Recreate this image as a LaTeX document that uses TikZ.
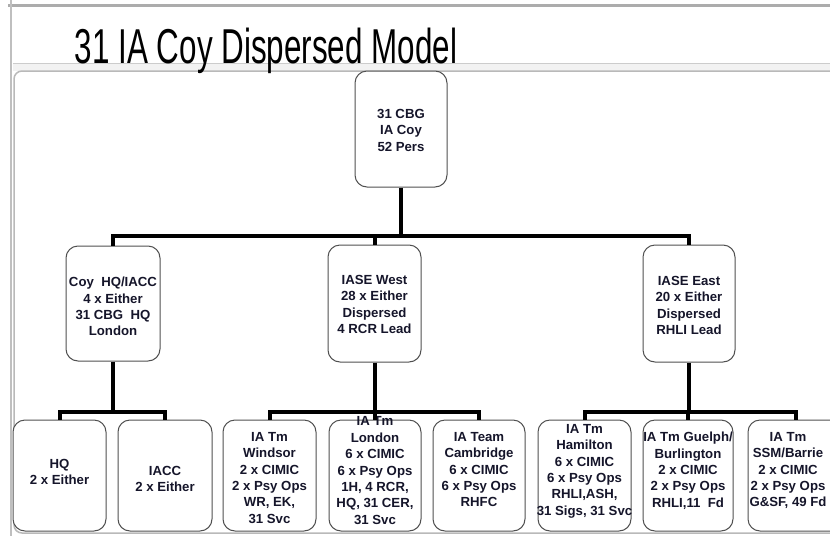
\documentclass[tikz,border=0pt]{standalone}
\usepackage{fontspec}
\setmainfont{Liberation Sans}
\definecolor{txt}{HTML}{15152A}
\definecolor{bord}{HTML}{505050}
\tikzset{
  box/.style={draw=bord, line width=1pt, rounded corners=12pt, fill=white, inner sep=0pt},
  lbl/.style={anchor=north, inner sep=0pt, align=center, text=txt, font=\fontsize{13.2}{16.4}\selectfont\bfseries},
  conn/.style={line width=4pt, draw=black},
}
\begin{document}
\begin{tikzpicture}[x=1pt,y=-1pt]
\useasboundingbox (0,0) rectangle (830,536);
\clip (0,0) rectangle (830,536);
\fill[white] (0,0) rectangle (830,536);
% slide frame
\draw[line width=3pt, gray!65] (8,5) -- (830,5);
\draw[line width=1.5pt, gray!50] (11,0) -- (11,536);
\fill[gray!10] (13,63) rectangle (830,71);
\draw[gray!40, line width=1pt] (13,63) -- (830,63);
\draw[gray!55, line width=1.5pt, rounded corners=8pt] (14,71) rectangle (845,533);
% title
\node[anchor=base, inner sep=0pt, text=black, font=\fontsize{31.4}{36}\selectfont] (title) at (266,63.5) {\scalebox{1}[1.56]{31 IA Coy Dispersed Model}};
% boxes
\node[box, minimum width=92pt, minimum height=116pt] (root) at (401,129) {};
\node[box, minimum width=94pt, minimum height=115pt] (coyhq) at (113,303.5) {};
\node[box, minimum width=93pt, minimum height=117pt] (west) at (374.5,303.5) {};
\node[box, minimum width=92pt, minimum height=117pt] (east) at (689,303.5) {};
\node[box, minimum width=93pt, minimum height=111pt] (hq) at (59.5,475.5) {};
\node[box, minimum width=94pt, minimum height=111pt] (iacc) at (165,475.5) {};
\node[box, minimum width=93pt, minimum height=111pt] (windsor) at (269.5,475.5) {};
\node[box, minimum width=92pt, minimum height=111pt] (london) at (375,475.5) {};
\node[box, minimum width=92pt, minimum height=111pt] (cambridge) at (479,475.5) {};
\node[box, minimum width=93pt, minimum height=111pt] (hamilton) at (584.5,475.5) {};
\node[box, minimum width=90pt, minimum height=111pt] (guelph) at (688,475.5) {};
\node[box, minimum width=96pt, minimum height=111pt] (ssm) at (796,475.5) {};
% labels
\node[lbl] (troot) at (401,109) {31 CBG\\IA Coy\\52 Pers};
\node[lbl] (tcoyhq) at (113,277) {Coy\ \ HQ/IACC\\4 x Either\\31 CBG\ \ HQ\\London};
\node[lbl] (twest) at (374.5,275) {IASE West\\28 x Either\\Dispersed\\4 RCR Lead};
\node[lbl] (teast) at (689,276) {IASE East\\20 x Either\\Dispersed\\RHLI Lead};
\node[lbl] (thq) at (59.5,459) {HQ\\2 x Either};
\node[lbl] (tiacc) at (165,466) {IACC\\2 x Either};
\node[lbl] (twindsor) at (269.5,432) {IA Tm\\Windsor\\2 x CIMIC\\2 x Psy Ops\\WR, EK,\\31 Svc};
\node[lbl] (tlondon) at (375,416.6) {IA Tm\\London\\6 x CIMIC\\6 x Psy Ops\\1H, 4 RCR,\\HQ, 31 CER,\\31 Svc};
\node[lbl] (tcambridge) at (479,432) {IA Team\\Cambridge\\6 x CIMIC\\6 x Psy Ops\\RHFC};
\node[lbl] (thamilton) at (584.5,424) {IA Tm\\Hamilton\\6 x CIMIC\\6 x Psy Ops\\RHLI,ASH,\\31 Sigs, 31 Svc};
\node[lbl] (tguelph) at (688,432) {IA Tm Guelph/\\Burlington\\2 x CIMIC\\2 x Psy Ops\\RHLI,11\ \ Fd};
\node[lbl] (tssm) at (788,432) {IA Tm\\SSM/Barrie\\2 x CIMIC\\2 x Psy Ops\\G\&SF, 49 Fd};
% junctions
\coordinate (j0) at (401,236);
\coordinate (j1) at (113,412);
\coordinate (j2) at (374.5,412);
\coordinate (j3) at (689,412);
% connectors
\draw[conn] (root.south) -- (j0);
\draw[conn] (coyhq.north) |- (j0) -| (east.north);
\draw[conn] (west.north) -- (west.north |- j0);
\draw[conn] (coyhq.south) -- (j1);
\draw[conn] (hq.north) |- (j1) -| (iacc.north);
\draw[conn] (west.south) -- (j2);
\draw[conn] (windsor.north) |- (j2) -| (cambridge.north);
\draw[conn] (london.north) -- (london.north |- j2);
\draw[conn] (east.south) -- (j3);
\draw[conn] (hamilton.north) |- (j3) -| (ssm.north);
\draw[conn] (guelph.north) -- (guelph.north |- j3);
\end{tikzpicture}
\end{document}
